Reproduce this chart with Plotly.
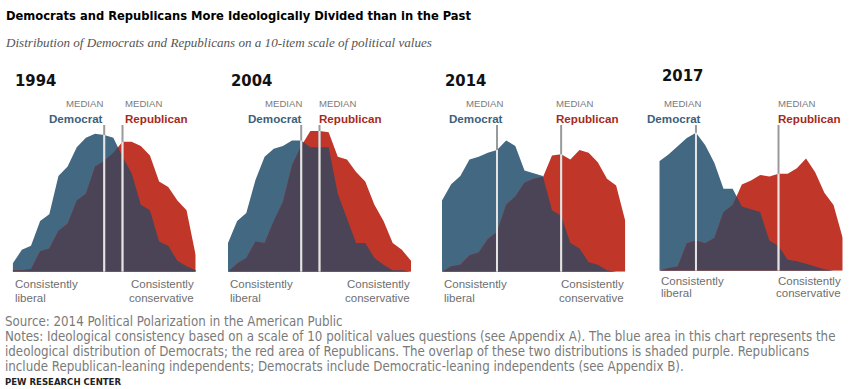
import numpy as np
import plotly.graph_objects as go

# ---------------- data (share of each party at each point of the -10..+10 scale) -------------
years = ["1994", "2004", "2014", "2017"]
scale_points = list(range(21))

dem_1994 = [0.6, 1.6, 1.9, 3.7, 4.2, 7.0, 7.7, 9.1, 9.8, 10.1, 10.0, 9.8, 8.4, 7.2, 4.9, 4.5, 2.2, 1.9, 0.8, 0.4, 0.1]
rep_1994 = [0.1, 0.1, 0.2, 1.5, 1.7, 3.0, 3.5, 5.2, 5.7, 7.7, 8.1, 8.7, 9.5, 9.5, 9.2, 8.5, 6.6, 6.2, 5.2, 4.5, 1.2]
dem_2004 = [2.1, 3.7, 4.3, 6.7, 8.4, 9.0, 9.2, 9.6, 9.6, 9.1, 9.1, 9.1, 5.7, 3.9, 2.1, 2.1, 1.0, 0.5, 0.1, 0.1, 0.0]
rep_2004 = [0.0, 0.6, 1.0, 2.2, 2.1, 3.7, 5.1, 7.8, 9.2, 10.3, 10.3, 10.2, 8.4, 8.2, 7.3, 6.6, 4.9, 3.7, 2.1, 1.6, 0.8]
dem_2014 = [5.2, 6.4, 7.0, 8.2, 8.4, 8.7, 8.9, 9.6, 9.2, 7.4, 7.2, 7.0, 4.5, 4.1, 2.1, 1.7, 0.7, 0.5, 0.1, 0.0, 0.0]
rep_2014 = [0.0, 0.4, 0.5, 1.2, 1.4, 2.4, 2.9, 4.9, 5.5, 6.5, 6.8, 6.9, 8.5, 8.6, 8.2, 8.9, 8.7, 8.0, 6.8, 6.3, 3.7]
dem_2017 = [8.0, 8.5, 9.1, 9.7, 10.1, 9.2, 7.9, 6.0, 6.0, 4.7, 4.5, 4.3, 2.2, 1.8, 0.8, 0.7, 0.5, 0.3, 0.1, 0.0, 0.0]
rep_2017 = [0.0, 0.2, 0.3, 2.0, 2.2, 2.0, 2.4, 4.3, 4.8, 6.3, 6.6, 7.0, 6.9, 7.1, 7.1, 7.5, 8.2, 7.2, 5.7, 4.8, 2.4]

dem_median = [10, 8, 6, 4]
rep_median = [12, 10, 13, 13]

title_text = "Democrats and Republicans More Ideologically Divided than in the Past"
subtitle_text = "Distribution of Democrats and Republicans on a 10-item scale of political values"
source_text = "Source: 2014 Political Polarization in the American Public"
notes_lines = [
    "Notes: Ideological consistency based on a scale of 10 political values questions (see Appendix A). The blue area in this chart represents the",
    "ideological distribution of Democrats; the red area of Republicans. The overlap of these two distributions is shaded purple. Republicans",
    "include Republican-leaning independents; Democrats include Democratic-leaning independents (see Appendix B).",
]
credit_text = "PEW RESEARCH CENTER"

dems = [dem_1994, dem_2004, dem_2014, dem_2017]
reps = [rep_1994, rep_2004, rep_2014, rep_2017]

# ---------------- layout geometry (pixels) ----------------
W, H = 861, 389
panel_left = [12.7, 228.0, 442.0, 659.3]
panel_right = [195.7, 411.0, 625.3, 842.7]
panel_base = [271.7, 271.7, 271.7, 270.7]
px_per_unit = 13.67
y_max = 10.4
year_y = [80, 80, 80, 75.5]
dem_shift = [1, 3, 8, 7]
rep_shift = [0, -3, -7, -3]

BLUE = "#436882"
RED = "#C0372A"
PURPLE = "#4A4456"
DEM_TXT = "#3C5F7C"
REP_TXT = "#A52A1C"

COND = "DejaVu Sans Condensed, Liberation Sans Narrow, sans-serif"
SANS = "Liberation Sans, Arial, sans-serif"


def px_x(p):
    return p / W


def px_y(p):
    return 1 - p / H


def overlap(xs, a, b):
    """Pointwise minimum of two piecewise-linear curves, with crossing points inserted."""
    ox, oy = [], []
    for i in range(len(xs)):
        if i > 0:
            d0 = a[i - 1] - b[i - 1]
            d1 = a[i] - b[i]
            if d0 * d1 < 0:
                t = d0 / (d0 - d1)
                ox.append(xs[i - 1] + t * (xs[i] - xs[i - 1]))
                oy.append(a[i - 1] + t * (a[i] - a[i - 1]))
        ox.append(xs[i])
        oy.append(min(a[i], b[i]))
    return ox, oy


fig = go.Figure()
annotations = []
shapes = []

for k in range(4):
    xa = "x" if k == 0 else f"x{k + 1}"
    ya = "y" if k == 0 else f"y{k + 1}"
    d = dems[k]
    r = reps[k]
    fig.add_trace(go.Scatter(x=scale_points, y=d, mode="lines", fill="tozeroy",
                             fillcolor=BLUE, line=dict(width=0, color=BLUE),
                             xaxis=xa, yaxis=ya, hoverinfo="skip", showlegend=False))
    fig.add_trace(go.Scatter(x=scale_points, y=r, mode="lines", fill="tozeroy",
                             fillcolor=RED, line=dict(width=0, color=RED),
                             xaxis=xa, yaxis=ya, hoverinfo="skip", showlegend=False))
    ox, oy = overlap(scale_points, d, r)
    fig.add_trace(go.Scatter(x=ox, y=oy, mode="lines", fill="tozeroy",
                             fillcolor=PURPLE, line=dict(width=0, color=PURPLE),
                             xaxis=xa, yaxis=ya, hoverinfo="skip", showlegend=False))

    base = panel_base[k]
    top = base - y_max * px_per_unit
    axis_name = "xaxis" if k == 0 else f"xaxis{k + 1}"
    yaxis_name = "yaxis" if k == 0 else f"yaxis{k + 1}"
    fig.layout[axis_name] = dict(domain=[px_x(panel_left[k]), px_x(panel_right[k])],
                                 range=[0, 20], visible=False, anchor=ya, fixedrange=True)
    fig.layout[yaxis_name] = dict(domain=[px_y(base), px_y(top)], range=[0, y_max],
                                  visible=False, anchor=xa, fixedrange=True)

    # median lines
    for m in (dem_median[k], rep_median[k]):
        area_top = max(d[m], r[m])
        shapes.append(dict(type="line", xref=xa, yref="paper", x0=m, x1=m,
                           y0=px_y(base), y1=px_y(125), line=dict(color="#9a9a9a", width=2)))
        shapes.append(dict(type="line", xref=xa, yref=ya, x0=m, x1=m,
                           y0=0, y1=area_top, line=dict(color="#e4e4e4", width=2)))

    # median labels
    annotations.append(dict(text="MEDIAN", xref=xa, yref="paper", x=dem_median[k], y=px_y(104),
                            xanchor="right", yanchor="middle", xshift=dem_shift[k], showarrow=False,
                            font=dict(family=SANS, size=9.6, color="#7a7a7a")))
    annotations.append(dict(text="<b>Democrat</b>", xref=xa, yref="paper", x=dem_median[k], y=px_y(118),
                            xanchor="right", yanchor="middle", xshift=dem_shift[k], showarrow=False,
                            font=dict(family=SANS, size=11.6, color=DEM_TXT)))
    annotations.append(dict(text="MEDIAN", xref=xa, yref="paper", x=rep_median[k], y=px_y(104),
                            xanchor="left", yanchor="middle", xshift=rep_shift[k], showarrow=False,
                            font=dict(family=SANS, size=9.6, color="#7a7a7a")))
    annotations.append(dict(text="<b>Republican</b>", xref=xa, yref="paper", x=rep_median[k], y=px_y(118),
                            xanchor="left", yanchor="middle", xshift=rep_shift[k], showarrow=False,
                            font=dict(family=SANS, size=11.6, color=REP_TXT)))

    # year title
    annotations.append(dict(text=f"<b>{years[k]}</b>", xref="paper", yref="paper",
                            x=px_x(panel_left[k] + 0.5), y=px_y(year_y[k]), xanchor="left",
                            yanchor="middle", showarrow=False,
                            font=dict(family=COND, size=16.5, color="#111111")))

    # axis end labels
    l1 = 284 if k < 3 else 281
    l2 = 298 if k < 3 else 293
    for txt, yy in (("Consistently", l1), ("liberal", l2)):
        annotations.append(dict(text=txt, xref="paper", yref="paper", x=px_x(panel_left[k]),
                                y=px_y(yy), xanchor="left", yanchor="middle", showarrow=False,
                                font=dict(family=SANS, size=11.5, color="#6e6e6e")))
    for txt, yy in (("Consistently", l1), ("conservative", l2)):
        annotations.append(dict(text=txt, xref="paper", yref="paper", x=px_x(panel_right[k] + 0.5),
                                y=px_y(yy), xanchor="right", yanchor="middle", showarrow=False,
                                font=dict(family=SANS, size=11.5, color="#6e6e6e")))

# titles
annotations.append(dict(text=f"<b>{title_text}</b>", xref="paper", yref="paper", x=px_x(4),
                        y=px_y(16), xanchor="left", yanchor="middle", showarrow=False,
                        font=dict(family=COND, size=12.8, color="#000000")))
annotations.append(dict(text=f"<i>{subtitle_text}</i>", xref="paper", yref="paper", x=px_x(3),
                        y=px_y(43), xanchor="left", yanchor="middle", showarrow=False,
                        font=dict(family="Liberation Serif, DejaVu Serif, serif", size=13.1, color="#555555")))

# footer
foot_lines = [source_text] + notes_lines
for i, txt in enumerate(foot_lines):
    annotations.append(dict(text=txt, xref="paper", yref="paper", x=px_x(3), y=px_y(321 + 15 * i),
                            xanchor="left", yanchor="middle", showarrow=False,
                            font=dict(family=COND, size=13.2, color="#7a7a7a")))
annotations.append(dict(text=f"<b>{credit_text}</b>", xref="paper", yref="paper", x=px_x(3),
                        y=px_y(381), xanchor="left", yanchor="middle", showarrow=False,
                        font=dict(family=COND, size=9.5, color="#222222")))

fig.update_layout(width=W, height=H, margin=dict(l=0, r=0, t=0, b=0),
                  paper_bgcolor="white", plot_bgcolor="rgba(0,0,0,0)",
                  annotations=annotations, shapes=shapes, showlegend=False)

fig.write_html("out.html", config={"displayModeBar": False},
               post_script="document.body.style.margin='0px';")
